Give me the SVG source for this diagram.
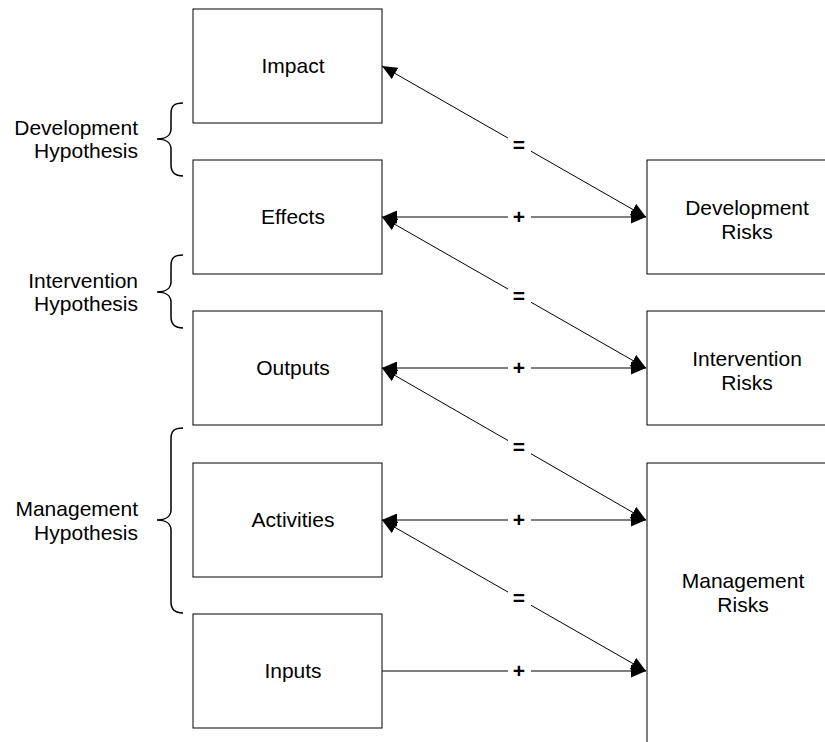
<svg xmlns="http://www.w3.org/2000/svg" width="825" height="742" viewBox="0 0 825 742">
<style>
.box{fill:#fff;stroke:#000;stroke-width:1}
.t{font-family:"Liberation Sans",Arial,sans-serif;font-size:21px;fill:#000;text-anchor:middle}
.op{font-family:"Liberation Sans",Arial,sans-serif;font-size:21px;font-weight:bold;fill:#000;text-anchor:middle}
.side{font-family:"Liberation Sans",Arial,sans-serif;font-size:21px;fill:#000;text-anchor:end}
.ln{stroke:#000;stroke-width:1;fill:none}
.brace{stroke:#000;stroke-width:1.5;fill:none}
.lblbg{fill:#fff}
</style>
<defs>
<marker id="ah" viewBox="0 0 15 13" refX="15" refY="6.5" markerWidth="15" markerHeight="13" markerUnits="userSpaceOnUse" orient="auto-start-reverse">
<path d="M0,0 L15,6.5 L0,13 Z" fill="#000"/>
</marker>
</defs>
<rect width="825" height="742" fill="#fff"/>

<g id="impact"><rect class="box" x="193" y="9" width="189" height="114"/><text class="t" x="293" y="73">Impact</text></g>
<g id="effects"><rect class="box" x="193" y="160" width="189" height="114"/><text class="t" x="293" y="224">Effects</text></g>
<g id="outputs"><rect class="box" x="193" y="311" width="189" height="114"/><text class="t" x="293" y="375">Outputs</text></g>
<g id="activities"><rect class="box" x="193" y="463" width="189" height="114"/><text class="t" x="293" y="527">Activities</text></g>
<g id="inputs"><rect class="box" x="193" y="614" width="189" height="114"/><text class="t" x="293" y="678">Inputs</text></g>

<g id="development-risks"><rect class="box" x="647" y="160" width="200" height="114"/><text class="t" x="747" y="215">Development</text><text class="t" x="747" y="239">Risks</text></g>
<g id="intervention-risks"><rect class="box" x="647" y="311" width="200" height="114"/><text class="t" x="747" y="366">Intervention</text><text class="t" x="747" y="390">Risks</text></g>
<g id="management-risks"><rect class="box" x="647" y="463" width="200" height="300"/><text class="t" x="743" y="588">Management</text><text class="t" x="743" y="612">Risks</text></g>

<g id="development-hypothesis">
<path class="brace" d="M183,103 C174,103 171,106 171,114 L171,129 C171,135 166,139 157,139 C166,139 171,143 171,149 L171,165 C171,172 174,176 183,176"/>
<text class="side" x="138" y="135">Development</text><text class="side" x="138" y="158">Hypothesis</text>
</g>
<g id="intervention-hypothesis">
<path class="brace" d="M183,255 C174,255 171,258 171,266 L171,282 C171,288 166,292 157,292 C166,292 171,296 171,302 L171,317 C171,324 174,328 183,328"/>
<text class="side" x="138" y="288">Intervention</text><text class="side" x="138" y="311">Hypothesis</text>
</g>
<g id="management-hypothesis">
<path class="brace" d="M183,428 C174,428 171,431 171,439 L171,510 C171,516 166,520 157,520 C166,520 171,524 171,530 L171,602 C171,609 174,613 183,613"/>
<text class="side" x="138" y="516">Management</text><text class="side" x="138" y="540">Hypothesis</text>
</g>

<g id="connectors">
<line class="ln" x1="382" y1="66" x2="646" y2="217" marker-start="url(#ah)" marker-end="url(#ah)"/>
<line class="ln" x1="382" y1="217" x2="646" y2="217" marker-start="url(#ah)" marker-end="url(#ah)"/>
<line class="ln" x1="382" y1="217" x2="646" y2="368" marker-start="url(#ah)" marker-end="url(#ah)"/>
<line class="ln" x1="382" y1="368" x2="646" y2="368" marker-start="url(#ah)" marker-end="url(#ah)"/>
<line class="ln" x1="382" y1="368" x2="646" y2="520" marker-start="url(#ah)" marker-end="url(#ah)"/>
<line class="ln" x1="382" y1="520" x2="646" y2="520" marker-start="url(#ah)" marker-end="url(#ah)"/>
<line class="ln" x1="382" y1="520" x2="646" y2="671" marker-start="url(#ah)" marker-end="url(#ah)"/>
<line class="ln" x1="382" y1="671" x2="646" y2="671" marker-end="url(#ah)"/>

<rect class="lblbg" x="508" y="136" width="23" height="17"/><text class="op" x="519" y="152">=</text>
<rect class="lblbg" x="508" y="209" width="23" height="16"/><text class="op" x="519" y="224">+</text>
<rect class="lblbg" x="508" y="287" width="23" height="17"/><text class="op" x="519" y="303">=</text>
<rect class="lblbg" x="508" y="360" width="23" height="16"/><text class="op" x="519" y="375">+</text>
<rect class="lblbg" x="508" y="438" width="23" height="17"/><text class="op" x="519" y="454">=</text>
<rect class="lblbg" x="508" y="512" width="23" height="16"/><text class="op" x="519" y="527">+</text>
<rect class="lblbg" x="508" y="589" width="23" height="17"/><text class="op" x="519" y="605">=</text>
<rect class="lblbg" x="508" y="663" width="23" height="16"/><text class="op" x="519" y="678">+</text>
</g>
</svg>
